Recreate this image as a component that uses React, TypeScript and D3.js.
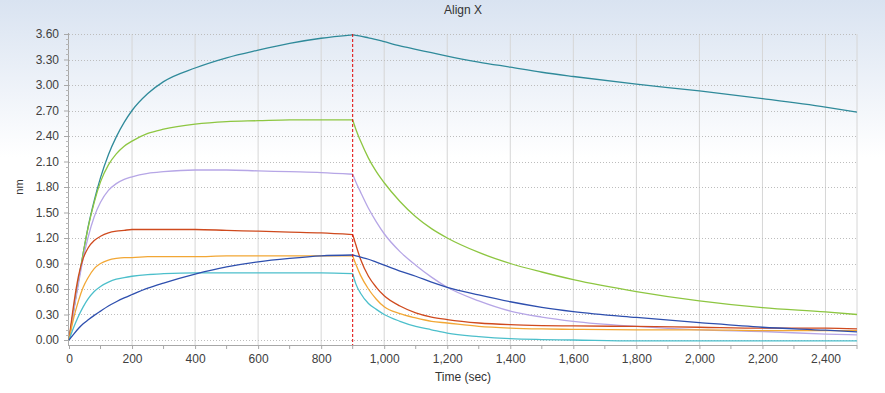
import React, { useEffect, useRef } from "react";
import * as d3 from "d3";

// sample times (sec)
const assocTime = [0, 15, 30, 45, 60, 80, 100, 125, 150, 175, 200, 250, 300, 400, 500, 600, 700, 800, 900];
const dissocTime = [900, 910, 925, 950, 975, 1000, 1050, 1100, 1150, 1200, 1300, 1400, 1500, 1600, 1800, 2000, 2200, 2400, 2500];

// response (nm) per sensor, association then dissociation
const tealAssoc = [0, 0.36, 0.7, 1.02, 1.32, 1.64, 1.91, 2.18, 2.39, 2.56, 2.7, 2.9, 3.04, 3.2, 3.32, 3.41, 3.49, 3.55, 3.59];
const tealDissoc = [3.59, 3.585, 3.575, 3.555, 3.535, 3.51, 3.46, 3.42, 3.38, 3.34, 3.27, 3.21, 3.15, 3.1, 3.01, 2.93, 2.84, 2.74, 2.68];
const greenAssoc = [0, 0.36, 0.7, 1.02, 1.31, 1.62, 1.86, 2.06, 2.19, 2.28, 2.34, 2.43, 2.48, 2.54, 2.57, 2.58, 2.59, 2.59, 2.59];
const greenDissoc = [2.59, 2.48, 2.34, 2.14, 1.98, 1.85, 1.63, 1.45, 1.31, 1.2, 1.03, 0.9, 0.8, 0.71, 0.57, 0.46, 0.38, 0.33, 0.3];
const lavenderAssoc = [0, 0.34, 0.66, 0.96, 1.2, 1.45, 1.62, 1.76, 1.84, 1.89, 1.92, 1.96, 1.98, 2.0, 2.0, 1.99, 1.98, 1.97, 1.95];
const lavenderDissoc = [1.95, 1.86, 1.74, 1.55, 1.39, 1.25, 1.04, 0.88, 0.74, 0.62, 0.46, 0.34, 0.27, 0.22, 0.16, 0.12, 0.1, 0.07, 0.06];
const redAssoc = [0, 0.42, 0.75, 0.96, 1.08, 1.17, 1.22, 1.26, 1.28, 1.29, 1.3, 1.3, 1.3, 1.3, 1.29, 1.28, 1.27, 1.26, 1.24];
const redDissoc = [1.24, 1.12, 0.95, 0.75, 0.62, 0.52, 0.4, 0.32, 0.27, 0.24, 0.2, 0.18, 0.17, 0.165, 0.16, 0.15, 0.14, 0.14, 0.13];
const orangeAssoc = [0, 0.26, 0.46, 0.62, 0.73, 0.84, 0.9, 0.94, 0.96, 0.97, 0.97, 0.98, 0.98, 0.98, 0.99, 0.99, 0.99, 0.99, 0.99];
const orangeDissoc = [0.99, 0.89, 0.76, 0.6, 0.48, 0.39, 0.31, 0.26, 0.22, 0.2, 0.16, 0.14, 0.13, 0.125, 0.12, 0.12, 0.11, 0.11, 0.11];
const cyanAssoc = [0, 0.15, 0.28, 0.39, 0.48, 0.57, 0.63, 0.68, 0.715, 0.735, 0.75, 0.77, 0.78, 0.79, 0.79, 0.79, 0.79, 0.79, 0.78];
const cyanDissoc = [0.78, 0.66, 0.55, 0.43, 0.36, 0.3, 0.22, 0.16, 0.12, 0.08, 0.04, 0.015, 0.005, 0.0, -0.01, -0.01, -0.01, -0.01, -0.01];
const blueAssoc = [0, 0.07, 0.135, 0.19, 0.235, 0.29, 0.34, 0.4, 0.45, 0.495, 0.535, 0.61, 0.67, 0.775, 0.86, 0.92, 0.96, 0.99, 1.0];
const blueDissoc = [1.0, 0.99, 0.975, 0.95, 0.915, 0.88, 0.81, 0.75, 0.68, 0.62, 0.53, 0.45, 0.385, 0.335, 0.265, 0.205, 0.15, 0.115, 0.095];

const seriesList = [
  { color: "#2f8a9a", assoc: tealAssoc, dissoc: tealDissoc },
  { color: "#8dc641", assoc: greenAssoc, dissoc: greenDissoc },
  { color: "#b6a6e6", assoc: lavenderAssoc, dissoc: lavenderDissoc },
  { color: "#cf4a1e", assoc: redAssoc, dissoc: redDissoc },
  { color: "#f2a735", assoc: orangeAssoc, dissoc: orangeDissoc },
  { color: "#4cbfcb", assoc: cyanAssoc, dissoc: cyanDissoc },
  { color: "#2e4fae", assoc: blueAssoc, dissoc: blueDissoc },
];

const xTicks = [0, 200, 400, 600, 800, 1000, 1200, 1400, 1600, 1800, 2000, 2200, 2400];
const yTicks = [0, 0.3, 0.6, 0.9, 1.2, 1.5, 1.8, 2.1, 2.4, 2.7, 3.0, 3.3, 3.6];
const stepTime = 900;

export default function App() {
  const ref = useRef<SVGSVGElement>(null);

  useEffect(() => {
    const width = 885;
    const height = 393;
    const svg = d3.select(ref.current);
    svg.selectAll("*").remove();

    const x = d3.scaleLinear().domain([0, 2500]).range([69, 857]);
    const y = d3.scaleLinear().domain([0, 3.6]).range([340, 34]);
    const axisY = 345;
    const font = "'Liberation Sans', Arial, sans-serif";

    // background gradient
    const grad = svg
      .append("defs")
      .append("linearGradient")
      .attr("id", "bg")
      .attr("x1", 0)
      .attr("y1", 0)
      .attr("x2", 0)
      .attr("y2", 1);
    grad.append("stop").attr("offset", "0%").attr("stop-color", "#d9e3f1");
    grad.append("stop").attr("offset", "40%").attr("stop-color", "#ffffff");
    grad.append("stop").attr("offset", "100%").attr("stop-color", "#ffffff");
    svg.append("rect").attr("width", width).attr("height", height).attr("fill", "url(#bg)");

    // grid
    const grid = svg.append("g");
    grid
      .selectAll("line.v")
      .data(xTicks.concat([2500]).filter(d => d > 0))
      .enter()
      .append("line")
      .attr("x1", d => x(d))
      .attr("x2", d => x(d))
      .attr("y1", y(3.6))
      .attr("y2", axisY)
      .attr("stroke", "#d6d6d6")
      .attr("stroke-width", 1);
    grid
      .selectAll("line.h")
      .data(yTicks)
      .enter()
      .append("line")
      .attr("x1", x(0))
      .attr("x2", x(2500))
      .attr("y1", d => Math.round(y(d)) + 0.5)
      .attr("y2", d => Math.round(y(d)) + 0.5)
      .attr("stroke", "#bdbdbd")
      .attr("stroke-dasharray", "1,2");

    // x axis
    const xAxis = d3
      .axisBottom(x)
      .tickValues(xTicks)
      .tickSize(4)
      .tickFormat(d => d3.format(",")(d as number));
    const gx = svg.append("g").attr("transform", `translate(0,${axisY})`).call(xAxis);
    gx.select(".domain").attr("stroke", "#a8a8a8").attr("d", `M${x(0)},0.5H${x(2500)}`);
    gx.selectAll(".tick line").attr("stroke", "#a8a8a8");
    gx.selectAll(".tick text")
      .attr("fill", "#404040")
      .attr("font-family", font)
      .attr("font-size", 12)
      .attr("dy", "0.9em");
    const minorX = d3.range(100, 2501, 200);
    svg
      .append("g")
      .selectAll("line")
      .data(minorX)
      .enter()
      .append("line")
      .attr("x1", d => x(d))
      .attr("x2", d => x(d))
      .attr("y1", axisY)
      .attr("y2", axisY + 4)
      .attr("stroke", "#a8a8a8");

    // y axis
    const yAxis = d3
      .axisLeft(y)
      .tickValues(yTicks)
      .tickSize(5)
      .tickFormat(d => d3.format(".2f")(d as number));
    const gy = svg.append("g").attr("transform", `translate(${x(0)},0)`).call(yAxis);
    gy.select(".domain").attr("stroke", "#a8a8a8").attr("d", `M-0.5,${y(3.6) - 1}V${axisY + 1}`);
    gy.selectAll(".tick line").attr("stroke", "#a8a8a8");
    gy.selectAll(".tick text")
      .attr("fill", "#404040")
      .attr("font-family", font)
      .attr("font-size", 12)
      .attr("x", -10);
    const minorY = d3.range(0, 3.6, 0.06).filter(v => Math.abs(v / 0.3 - Math.round(v / 0.3)) > 0.01);
    svg
      .append("g")
      .selectAll("line")
      .data(minorY)
      .enter()
      .append("line")
      .attr("x1", x(0) - 3)
      .attr("x2", x(0))
      .attr("y1", d => Math.round(y(d)) + 0.5)
      .attr("y2", d => Math.round(y(d)) + 0.5)
      .attr("stroke", "#b8b8b8");

    // curves: association and dissociation drawn as separate segments
    const line = d3
      .line<[number, number]>()
      .x(d => x(d[0]))
      .y(d => y(d[1]))
      .curve(d3.curveMonotoneX);
    const plot = svg.append("g");
    seriesList.forEach(s => {
      const a = assocTime.map((t, i) => [t, s.assoc[i]] as [number, number]);
      const b = dissocTime.map((t, i) => [t, s.dissoc[i]] as [number, number]);
      [a, b].forEach(pts => {
        plot
          .append("path")
          .attr("d", line(pts))
          .attr("fill", "none")
          .attr("stroke", s.color)
          .attr("stroke-width", 1.3);
      });
    });

    // step marker
    svg
      .append("line")
      .attr("x1", x(stepTime))
      .attr("x2", x(stepTime))
      .attr("y1", y(3.6))
      .attr("y2", axisY)
      .attr("stroke", "#e00000")
      .attr("stroke-width", 1)
      .attr("stroke-dasharray", "3,2");

    // titles
    svg
      .append("text")
      .attr("x", (x(0) + x(2500)) / 2)
      .attr("y", 14)
      .attr("text-anchor", "middle")
      .attr("font-family", font)
      .attr("font-size", 12)
      .attr("fill", "#333")
      .text("Align X");
    svg
      .append("text")
      .attr("x", (x(0) + x(2500)) / 2)
      .attr("y", 381)
      .attr("text-anchor", "middle")
      .attr("font-family", font)
      .attr("font-size", 12)
      .attr("fill", "#333")
      .text("Time (sec)");
    svg
      .append("text")
      .attr("transform", `translate(23,187) rotate(-90)`)
      .attr("text-anchor", "middle")
      .attr("font-family", font)
      .attr("font-size", 11)
      .attr("fill", "#333")
      .text("nm");
  }, []);

  return (
    <svg
      ref={ref}
      width={885}
      height={393}
      style={{ position: "absolute", left: 0, top: 0, display: "block" }}
    />
  );
}
